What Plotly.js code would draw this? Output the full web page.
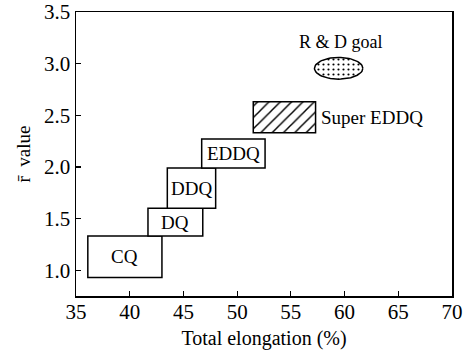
<!DOCTYPE html>
<html><head><meta charset="utf-8">
<script src="https://cdn.plot.ly/plotly-3.0.1.min.js"></script>
<style>body{margin:0;background:#fff}#c{width:466px;height:356px}</style>
</head><body><div id="c"></div>
<script>
// Steel grades: elongation range (%) and r-value range
const grades = ["CQ", "DQ", "DDQ", "EDDQ", "Super EDDQ"];
const elongMin = [36.1, 41.7, 43.5, 46.7, 51.5];
const elongMax = [43.0, 46.8, 48.0, 52.6, 57.3];
const rMin = [0.93, 1.33, 1.60, 1.99, 2.33];
const rMax = [1.33, 1.60, 1.99, 2.27, 2.63];
const hatch = ["", "", "", "", "/"];
// R & D goal ellipse
const goalCenter = [59.45, 2.955];
const goalRadius = [2.25, 0.105];
const goalLabel = "R & D goal";
const xTicks = [35, 40, 45, 50, 55, 60, 65, 70];
const yTicks = [1.0, 1.5, 2.0, 2.5, 3.0, 3.5];

const serif = "'Liberation Serif', 'DejaVu Serif', serif";

const bars = {
  type: "bar",
  x: grades.map((g, i) => (elongMin[i] + elongMax[i]) / 2),
  width: grades.map((g, i) => elongMax[i] - elongMin[i]),
  base: rMin,
  y: grades.map((g, i) => rMax[i] - rMin[i]),
  marker: {
    color: "#fff",
    line: {color: "#000", width: 1.5},
    pattern: {shape: hatch, fgcolor: "#000", bgcolor: "#fff", size: 8, solidity: 0.18}
  },
  hoverinfo: "skip",
  showlegend: false
};

const ex = [], ey = [];
for (let k = 0; k <= 72; k++) {
  const t = 2 * Math.PI * k / 72;
  ex.push(goalCenter[0] + goalRadius[0] * Math.cos(t));
  ey.push(goalCenter[1] + goalRadius[1] * Math.sin(t));
}
const ellipse = {
  type: "scatter", mode: "lines", x: ex, y: ey,
  fill: "toself", fillcolor: "#fff",
  fillpattern: {shape: ".", fgcolor: "#000", bgcolor: "#fff", size: 5, solidity: 0.15},
  line: {color: "#000", width: 1.5},
  hoverinfo: "skip", showlegend: false
};

const lblFont = {family: serif, size: 19, color: "#000"};
const annotations = grades.slice(0, 4).map((g, i) => ({
  x: (elongMin[i] + elongMax[i]) / 2, y: (rMin[i] + rMax[i]) / 2,
  text: g, showarrow: false, font: lblFont
}));
annotations.push({
  x: elongMax[4], y: (rMin[4] + rMax[4]) / 2, xanchor: "left", xshift: 3,
  text: grades[4], showarrow: false, font: lblFont
});
annotations.push({
  x: goalCenter[0], y: goalCenter[1] + goalRadius[1], yanchor: "bottom", yshift: 3, xshift: 2,
  text: goalLabel, showarrow: false, font: {family: serif, size: 18, color: "#000"}
});

const layout = {
  width: 466, height: 356,
  margin: {l: 76, r: 14, t: 12, b: 60},
  paper_bgcolor: "#fff", plot_bgcolor: "#fff",
  font: {family: serif, color: "#000"},
  bargap: 0,
  xaxis: {
    range: [35, 70], tickvals: xTicks, ticktext: xTicks.map(String),
    ticks: "inside", ticklen: 5, tickwidth: 1.2, tickcolor: "#000",
    showline: true, linecolor: "#000", linewidth: 1.5, mirror: true,
    showgrid: false, zeroline: false,
    tickfont: {family: serif, size: 21}, ticklabelstandoff: -4,
    title: {text: "Total elongation (%)", font: {family: serif, size: 20}, standoff: 8}
  },
  yaxis: {
    range: [0.75, 3.5], tickvals: yTicks, ticktext: yTicks.map(v => v.toFixed(1)),
    ticks: "inside", ticklen: 5, tickwidth: 1.2, tickcolor: "#000",
    showline: true, linecolor: "#000", linewidth: 1.5, mirror: true,
    showgrid: false, zeroline: false,
    tickfont: {family: serif, size: 21},
    title: {text: "r\u0304  value", font: {family: serif, size: 19}, standoff: 8}
  },
  annotations: annotations
};

Plotly.newPlot("c", [bars, ellipse], layout, {staticPlot: true, displayModeBar: false});
</script></body></html>
